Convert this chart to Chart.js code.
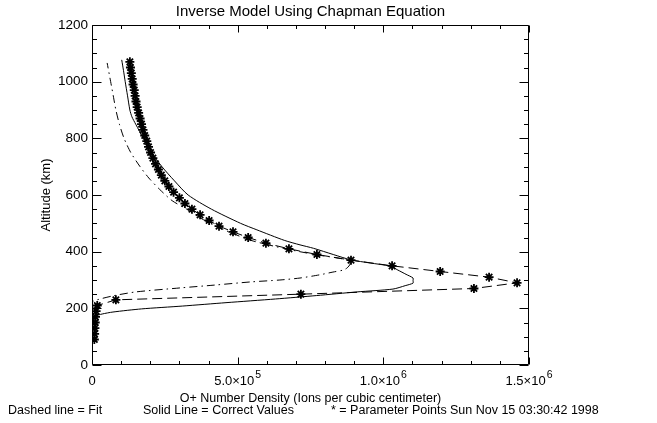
<!DOCTYPE html>
<html>
<head>
<meta charset="utf-8">
<script src="https://cdn.jsdelivr.net/npm/chart.js@4.4.0/dist/chart.umd.min.js"></script>
<style>
html,body{margin:0;padding:0;background:#ffffff;}
#wrap{width:657px;height:423px;}
</style>
</head>
<body>
<div id="wrap"><canvas id="c" width="657" height="423"></canvas></div>
<script>
// ---- Data ----
// Parameter points (asterisks) and the dashed "Fit" line through them
const paramAltitude = [90,110,130,150,170,190,210,230,250,270,290,310,330,350,370,390,410,430,450,470,490,510,530,550,570,590,610,630,650,670,690,710,730,750,770,790,810,830,850,870,890,910,930,950,970,990,1010,1030,1050,1070];
const paramDensity = [0.008e6,0.009e6,0.010e6,0.011e6,0.012e6,0.014e6,0.018e6,0.082e6,0.717e6,1.311e6,1.459e6,1.363e6,1.195e6,1.030e6,0.889e6,0.772e6,0.676e6,0.597e6,0.536e6,0.484e6,0.436e6,0.402e6,0.371e6,0.343e6,0.319e6,0.300e6,0.280e6,0.264e6,0.250e6,0.238e6,0.228e6,0.218e6,0.209e6,0.201e6,0.194e6,0.188e6,0.181e6,0.175e6,0.170e6,0.165e6,0.160e6,0.155e6,0.151e6,0.148e6,0.145e6,0.141e6,0.138e6,0.135e6,0.132e6,0.130e6];

// Solid line: correct values
const correctAltitude = [100,150,165,172,180,187,198,208,220,233,245,258,268,280,289,298,307,320,335,349,360,371,390,412,424,440,477,500,550,600,650,700,750,800,850,876,900,950,1000,1040,1077];
const correctDensity = [0,0.000e6,0.001e6,0.008e6,0.035e6,0.072e6,0.170e6,0.310e6,0.460e6,0.630e6,0.770e6,0.910e6,1.033e6,1.075e6,1.102e6,1.102e6,1.102e6,1.078e6,1.050e6,1.023e6,0.955e6,0.889e6,0.828e6,0.760e6,0.714e6,0.660e6,0.566e6,0.510e6,0.410e6,0.330e6,0.283e6,0.240e6,0.205e6,0.176e6,0.150e6,0.137e6,0.130e6,0.122e6,0.114e6,0.108e6,0.102e6];

// Dash-dot line
const dashDotAltitude = [200,215,225,244,258,272,282,293,300,307,318,328,335,342,357,371,390,410,440,470,490,520,550,580,620,660,700,750,800,850,900,950,1000,1066];
const dashDotDensity = [0.000e6,0.001e6,0.003e6,0.072e6,0.151e6,0.302e6,0.420e6,0.542e6,0.645e6,0.714e6,0.780e6,0.827e6,0.862e6,0.875e6,0.886e6,0.875e6,0.765e6,0.665e6,0.545e6,0.470e6,0.425e6,0.370e6,0.325e6,0.275e6,0.232e6,0.195e6,0.165e6,0.133e6,0.110e6,0.094e6,0.082e6,0.073e6,0.064e6,0.052e6];

// Axis tick labels
const xTickValues = [0, 5e5, 1e6, 1.5e6];
const xTickMantissa = ['0', '5.0\u00d710', '1.0\u00d710', '1.5\u00d710'];
const xTickExponent = ['', '5', '6', '6'];
const yTickValues = [0,200,400,600,800,1000,1200];

const titleText = 'Inverse Model Using Chapman Equation';
const xTitleText = 'O+ Number Density (Ions per cubic centimeter)';
const yTitleText = 'Altitude (km)';
const footerTexts = ['Dashed line = Fit', 'Solid Line = Correct Values', '* = Parameter Points', 'Sun Nov 15 03:30:42 1998'];

// ---- Build chart ----
const FONT = "'Liberation Sans', Arial, sans-serif";
const toPts = (alts, dens) => alts.map((a, i) => ({x: dens[i], y: a}));

const frameTicks = {
  id: 'frameTicks',
  afterDatasetsDraw(chart) {
    const {ctx, chartArea: a, scales: {x, y}} = chart;
    ctx.save();
    ctx.strokeStyle = '#000';
    ctx.lineWidth = 1;
    const L = Math.round(a.left) + 0.5, R = Math.round(a.right) - 0.5;
    const T = Math.round(a.top) + 0.5, B = Math.round(a.bottom) - 0.5;
    ctx.beginPath();
    ctx.rect(L, T, R - L, B - T);
    ctx.stroke();
    ctx.beginPath();
    for (let v = 0; v <= 1.5e6 + 1; v += 1e5) {
      const px = Math.round(x.getPixelForValue(v)) + 0.5;
      const major = Math.abs(v / 5e5 - Math.round(v / 5e5)) < 1e-6;
      const len = major ? 7 : 3.5;
      ctx.moveTo(px, B); ctx.lineTo(px, B - len);
      ctx.moveTo(px, T); ctx.lineTo(px, T + len);
    }
    for (let v = 0; v <= 1200; v += 50) {
      const py = Math.round(y.getPixelForValue(v)) + 0.5;
      const major = v % 200 === 0;
      const len = major ? 9 : 4.5;
      ctx.moveTo(L, py); ctx.lineTo(L + len, py);
      ctx.moveTo(R, py); ctx.lineTo(R - len, py);
    }
    ctx.stroke();
    ctx.restore();
  }
};

const texts = {
  id: 'texts',
  afterDraw(chart) {
    const {ctx, chartArea: a, scales: {x}} = chart;
    ctx.save();
    ctx.fillStyle = '#000';
    // title centred over the plot box
    ctx.font = '15px ' + FONT;
    ctx.textAlign = 'center';
    ctx.textBaseline = 'middle';
    ctx.fillText(titleText, (a.left + a.right) / 2, 12);
    // x tick labels with real superscripts
    const mainFont = '13px ' + FONT, supFont = '10.5px ' + FONT;
    xTickValues.forEach((v, i) => {
      const px = x.getPixelForValue(v);
      ctx.font = mainFont;
      const w1 = ctx.measureText(xTickMantissa[i]).width;
      ctx.font = supFont;
      const w2 = xTickExponent[i] ? ctx.measureText(xTickExponent[i]).width + 1 : 0;
      const start = px - (w1 + w2) / 2;
      ctx.textAlign = 'left';
      ctx.textBaseline = 'alphabetic';
      ctx.font = mainFont;
      ctx.fillText(xTickMantissa[i], start, 385);
      if (xTickExponent[i]) {
        ctx.font = supFont;
        ctx.fillText(xTickExponent[i], start + w1 + 1, 378);
      }
    });
    // footer line
    const xs = [8, 143, 331, 450];
    ctx.font = '12.5px ' + FONT;
    ctx.textBaseline = 'middle';
    ctx.textAlign = 'left';
    footerTexts.forEach((t, i) => ctx.fillText(t, xs[i], 411));
    ctx.restore();
  }
};

new Chart(document.getElementById('c'), {
  type: 'scatter',
  data: {
    datasets: [
      {
        label: 'Correct Values',
        data: toPts(correctAltitude, correctDensity),
        showLine: true, borderColor: '#000', borderWidth: 1, pointRadius: 0, tension: 0.25, fill: false
      },
      {
        label: 'Fit',
        data: toPts(paramAltitude, paramDensity),
        showLine: true, borderColor: '#000', borderWidth: 1, borderDash: [10, 5], pointRadius: 0, tension: 0, fill: false
      },
      {
        label: 'Dash-dot',
        data: toPts(dashDotAltitude, dashDotDensity),
        showLine: true, borderColor: '#000', borderWidth: 1, borderDash: [8, 4, 1.5, 4], pointRadius: 0, tension: 0.25, fill: false
      },
      {
        label: 'Parameter Points',
        data: toPts(paramAltitude, paramDensity),
        showLine: false, pointStyle: 'star', pointRadius: 4.5, pointBorderWidth: 1.8,
        pointBorderColor: '#000', pointBackgroundColor: '#000'
      }
    ]
  },
  options: {
    responsive: false,
    animation: false,
    devicePixelRatio: 1,
    layout: {padding: {left: 39, right: 128, top: 25, bottom: 0}},
    plugins: {
      legend: {display: false},
      tooltip: {enabled: false},
      title: {display: false}
    },
    scales: {
      x: {
        type: 'linear', min: 0, max: 1.5e6,
        afterFit: (s) => { s.height = 58; },
        afterBuildTicks: (s) => { s.ticks = xTickValues.map(v => ({value: v})); },
        grid: {display: false, drawTicks: false},
        border: {display: false},
        ticks: {display: false},
        title: {
          display: true, text: xTitleText, color: '#000',
          font: {family: FONT, size: 12.5}, padding: {top: 0, bottom: 17}
        }
      },
      y: {
        type: 'linear', min: 0, max: 1200,
        afterFit: (s) => { s.width = 53; },
        afterBuildTicks: (s) => { s.ticks = yTickValues.map(v => ({value: v})); },
        grid: {display: false, drawTicks: false},
        border: {display: false},
        ticks: {
          color: '#000', font: {family: FONT, size: 13.5}, padding: 4, autoSkip: false,
          callback: (v) => String(v)
        },
        title: {
          display: true, text: yTitleText, color: '#000',
          font: {family: FONT, size: 13}, padding: {top: 0, bottom: 0}
        }
      }
    }
  },
  plugins: [frameTicks, texts]
});
</script>
</body>
</html>
